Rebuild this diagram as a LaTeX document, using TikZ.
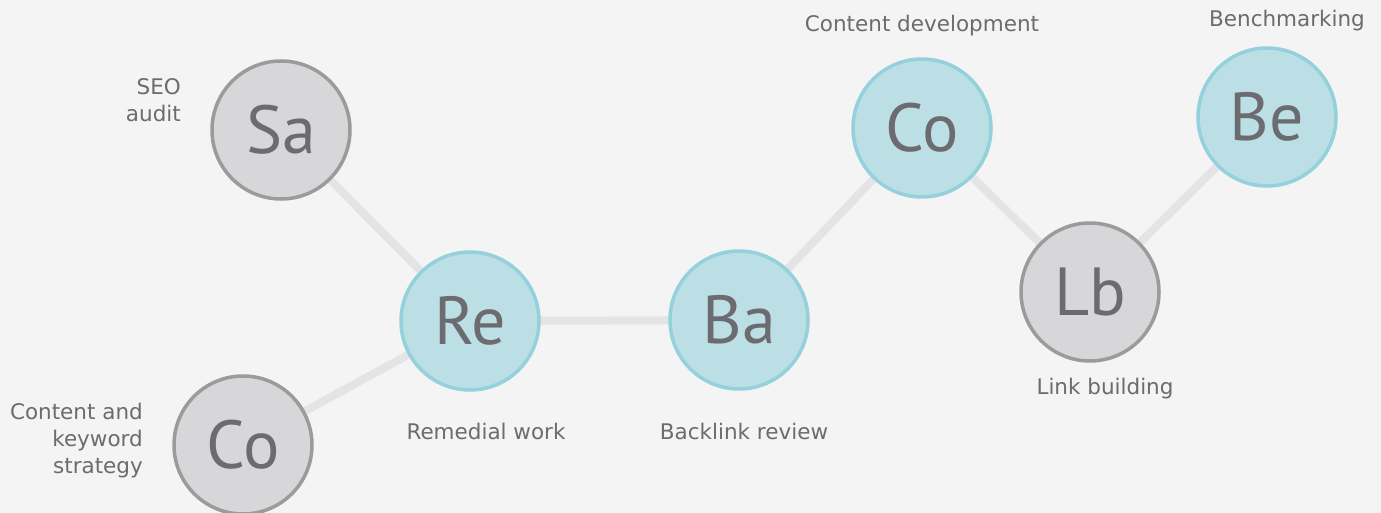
\documentclass[tikz,border=0pt]{standalone}
\usepackage{fontspec}
\setmainfont{DejaVu Sans}
\newfontfamily\circfont{PT Sans}
\definecolor{bg}{HTML}{F4F4F4}
\definecolor{grayfill}{HTML}{D7D7D9}
\definecolor{graystroke}{HTML}{9B9B9B}
\definecolor{bluefill}{HTML}{BCDFE6}
\definecolor{bluestroke}{HTML}{95D0DD}
\definecolor{txt}{HTML}{6B6B70}
\definecolor{link}{HTML}{E4E4E6}
\pgfdeclarelayer{bglayer}
\pgfdeclarelayer{edgelayer}
\pgfsetlayers{bglayer,edgelayer,main}
\tikzset{
  base/.style={circle, minimum size=138pt, inner sep=0pt, line width=3.5pt, text=txt, font=\circfont\fontsize{68}{68}\selectfont},
  graynode/.style={base, draw=graystroke, fill=grayfill},
  bluenode/.style={base, draw=bluestroke, fill=bluefill},
  conn/.style={draw=link, line width=8pt},
  lbl/.style={text=txt, font=\fontsize{21.5}{27}\selectfont, inner sep=0pt},
}
\begin{document}
\begin{tikzpicture}[x=1pt,y=-1pt]
\begin{pgfonlayer}{bglayer}
\fill[bg] (0,0) rectangle (1381,513);
\end{pgfonlayer}
\useasboundingbox (0,0) rectangle (1381,513);
\node[graynode] (sa) at (281,130) {Sa};
\node[graynode] (co1) at (243,445) {Co};
\node[bluenode] (re) at (470,321) {Re};
\node[bluenode] (ba) at (739,320) {Ba};
\node[bluenode] (co2) at (922,128) {Co};
\node[graynode] (lb) at (1090,292) {Lb};
\node[bluenode] (be) at (1267,117) {Be};
\begin{pgfonlayer}{edgelayer}
\draw[conn] (sa.center) -- (re.center);
\draw[conn] (co1.center) -- (re.center);
\draw[conn] (re.center) -- (ba.center);
\draw[conn] (ba.center) -- (co2.center);
\draw[conn] (co2.center) -- (lb.center);
\draw[conn] (lb.center) -- (be.center);
\end{pgfonlayer}
\node[lbl, align=right, anchor=east] (l1) at (181,100) {SEO\\audit};
\node[lbl, align=right, anchor=east] (l2) at (143,441) {Content and\\keyword\\strategy};
\node[lbl] (l3) at (486,431) {Remedial work};
\node[lbl] (l4) at (744,431) {Backlink review};
\node[lbl] (l5) at (922,26) {Content development};
\node[lbl] (l6) at (1105,389) {Link building};
\node[lbl] (l7) at (1287,21) {Benchmarking};
\end{tikzpicture}
\end{document}
